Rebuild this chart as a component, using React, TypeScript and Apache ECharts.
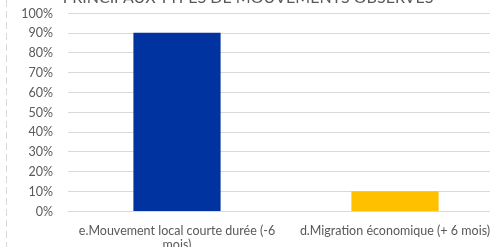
import React, { useEffect, useRef } from "react";
import * as echarts from "echarts";

const categories = ["e.Mouvement local courte durée (-6\nmois)", "d.Migration économique (+ 6 mois)"];
const values = [0.9, 0.1];
const barColors = ["#0033A0", "#FFC000"];
const titleText = "PRINCIPAUX TYPES DE MOUVEMENTS OBSERVES";

export default function App() {
  const ref = useRef<HTMLDivElement>(null);
  useEffect(() => {
    if (!ref.current) return;
    const chart = echarts.init(ref.current, null, { renderer: "svg" });
    chart.setOption({
      animation: false,
      textStyle: { fontFamily: "Lato, 'Open Sans', sans-serif" },
      grid: { left: 68, top: 13, width: 436, height: 198, containLabel: false, outerBoundsMode: "none" },
      xAxis: {
        type: "category",
        data: categories,
        axisLine: { lineStyle: { color: "#D9D9D9", width: 1 } },
        axisTick: { show: false },
        axisLabel: { color: "#595959", fontSize: 12.5, margin: 12, lineHeight: 14, interval: 0 },
      },
      yAxis: {
        type: "value",
        min: 0,
        max: 1,
        interval: 0.1,
        axisLine: { show: false },
        axisTick: { show: false },
        splitLine: { lineStyle: { color: "#D9D9D9", width: 1 } },
        axisLabel: {
          color: "#595959",
          fontSize: 12.5,
          margin: 15,
          formatter: (v: number) => Math.round(v * 100) + "%",
        },
      },
      series: [
        {
          type: "bar",
          barWidth: "40%",
          data: values.map((v, i) => ({ value: v, itemStyle: { color: barColors[i] } })),
        },
      ],
      graphic: [
        {
          type: "line",
          shape: { x1: 6.5, y1: 0, x2: 6.5, y2: 247 },
          style: { stroke: "#D9D9D9", lineWidth: 1, lineDash: [7, 4] },
        },
        {
          type: "text",
          x: 248,
          y: 4,
          style: {
            text: titleText,
            fill: "#595959",
            font: "16px Lato, 'Open Sans', sans-serif",
            textAlign: "center",
            textVerticalAlign: "bottom",
          },
        },
      ],
    });
    return () => chart.dispose();
  }, []);
  return <div ref={ref} style={{ position: "fixed", left: 0, top: 0, width: 490, height: 247 }} />;
}
